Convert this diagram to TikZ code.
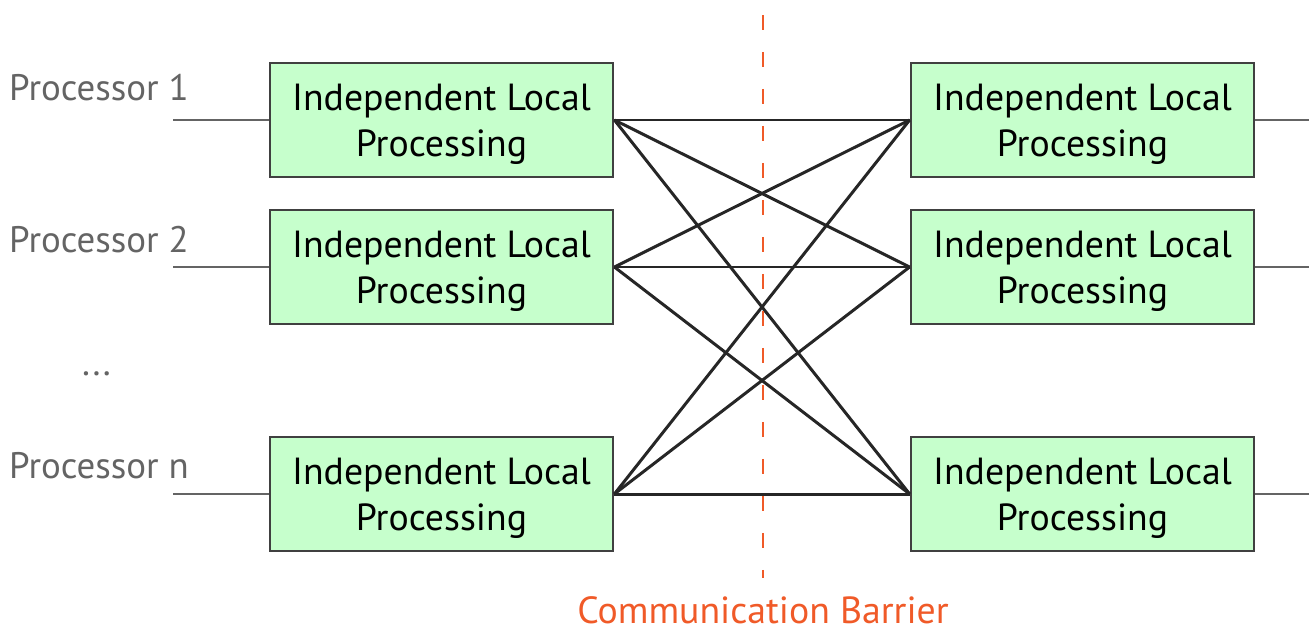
\documentclass[tikz,border=0pt]{standalone}
\usepackage{fontspec}
\setmainfont{PT Sans}
\usetikzlibrary{positioning, calc}
\definecolor{CajaVerde}{RGB}{198,255,204}
\definecolor{BordeGris}{RGB}{64,64,64}
\definecolor{TextoGris}{RGB}{100,100,100}
\definecolor{Barrera}{RGB}{240,90,40}

\begin{document}
\begin{tikzpicture}[x=0.02cm, y=-0.02cm,
    proc/.style={draw=BordeGris, line width=1.6pt, fill=CajaVerde, align=center,
        minimum width=6.86cm, minimum height=2.28cm, inner sep=0pt,
        font=\fontsize{21.5}{26}\selectfont},
    etiq/.style={anchor=west, text=TextoGris, font=\fontsize{21}{24}\selectfont},
    enlace/.style={line width=1.7pt, black!85},
    hilo/.style={line width=1.3pt, TextoGris}
]
    \useasboundingbox (0,0) rectangle (1311,632);
    % left column
    \node[proc] (l1) at (441.5,120) {\rule{0pt}{20pt}Independent Local\\Processing};
    \node[proc] (l2) at (441.5,267) {\rule{0pt}{20pt}Independent Local\\Processing};
    \node[proc] (l3) at (441.5,494) {\rule{0pt}{20pt}Independent Local\\Processing};
    % right column
    \node[proc] (r1) at (1082.5,120) {\rule{0pt}{20pt}Independent Local\\Processing};
    \node[proc] (r2) at (1082.5,267) {\rule{0pt}{20pt}Independent Local\\Processing};
    \node[proc] (r3) at (1082.5,494) {\rule{0pt}{20pt}Independent Local\\Processing};
    % processor labels
    \node[etiq] (p1) at (3,88) {Processor 1};
    \node[etiq] (p2) at (3,240) {Processor 2};
    \node[etiq] (pd) at (76,374) {...};
    \node[etiq] (pn) at (3,466) {Processor n};
    \coordinate (e1) at (173,120);
    \coordinate (e2) at (173,267);
    \coordinate (e3) at (173,494);
    \coordinate (s1) at (1309,120);
    \coordinate (s2) at (1309,267);
    \coordinate (s3) at (1309,494);
    \foreach \i in {1,2,3} {
        \draw[hilo] (e\i) -- (l\i.west);
        \draw[hilo] (r\i.east) -- (s\i);
    }
    % all-to-all exchange
    \foreach \i in {1,2,3} {
        \foreach \j in {1,2,3} {
            \draw[enlace] (l\i.east) -- (r\j.west);
        }
    }
    % barrier
    \coordinate (b1) at (763,15);
    \coordinate (b2) at (763,578);
    \draw[Barrera, line width=1.6pt, dash pattern=on 0.3cm off 0.44cm] (b1) -- (b2);
    \node[text=Barrera, inner sep=0pt, font=\fontsize{21.5}{24}\selectfont] (cb) at (763,610) {Communication Barrier};
\end{tikzpicture}
\end{document}
